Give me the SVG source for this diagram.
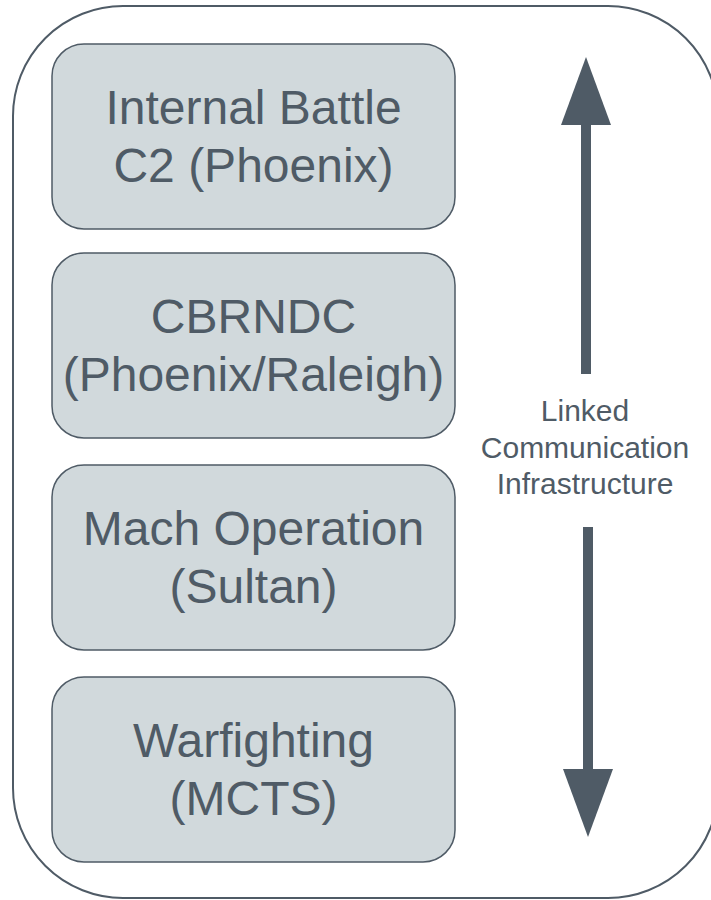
<svg xmlns="http://www.w3.org/2000/svg" width="711" height="900" viewBox="0 0 711 900">
  <style>
    .outer { fill: #ffffff; stroke: #4f5b66; stroke-width: 2; }
    .box { fill: #d1d9dc; stroke: #4f5b66; stroke-width: 1.5; }
    .t { font-family: "Liberation Sans", Arial, sans-serif; font-size: 48px; fill: #4f5b66; text-anchor: middle; }
    .lbl { font-family: "Liberation Sans", Arial, sans-serif; font-size: 30px; fill: #4f5b66; text-anchor: middle; }
    .arr { fill: #4f5b66; }
  </style>
  <rect width="711" height="900" fill="#ffffff"/>
  <g id="container">
    <rect class="outer" x="13" y="6" width="705" height="892" rx="110" ry="110"/>
  </g>
  <g id="node-battle">
    <rect class="box" x="52" y="44" width="403" height="185" rx="32" ry="32"/>
    <text class="t" x="253.5" y="124">Internal Battle</text>
    <text class="t" x="253.5" y="182">C2 (Phoenix)</text>
  </g>
  <g id="node-cbrndc">
    <rect class="box" x="52" y="253" width="403" height="185" rx="32" ry="32"/>
    <text class="t" x="253.5" y="333">CBRNDC</text>
    <text class="t" x="253.5" y="391">(Phoenix/Raleigh)</text>
  </g>
  <g id="node-mach">
    <rect class="box" x="52" y="465" width="403" height="185" rx="32" ry="32"/>
    <text class="t" x="253.5" y="545">Mach Operation</text>
    <text class="t" x="253.5" y="603">(Sultan)</text>
  </g>
  <g id="node-warfighting">
    <rect class="box" x="52" y="677" width="403" height="185" rx="32" ry="32"/>
    <text class="t" x="253.5" y="757">Warfighting</text>
    <text class="t" x="253.5" y="815">(MCTS)</text>
  </g>
  <g id="connectors">
    <rect class="arr" x="581" y="123" width="10" height="251"/>
    <polygon class="arr" points="586,57 561,125 611,125"/>
    <rect class="arr" x="583" y="527" width="10" height="244"/>
    <polygon class="arr" points="563,769 613,769 588,837"/>
  </g>
  <g id="label">
    <text class="lbl" x="585" y="421">Linked</text>
    <text class="lbl" x="585" y="458">Communication</text>
    <text class="lbl" x="585" y="494">Infrastructure</text>
  </g>
</svg>
